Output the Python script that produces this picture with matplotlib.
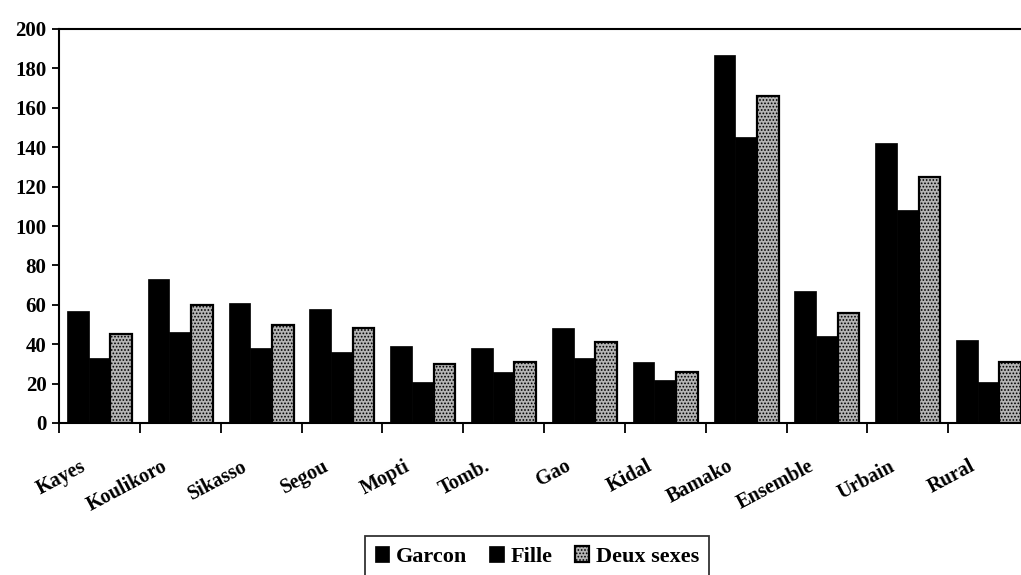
import matplotlib
matplotlib.use("Agg")
import matplotlib.pyplot as plt
import matplotlib.transforms as mtransforms
import numpy as np

categories = ["Kayes", "Koulikoro", "Sikasso", "Segou", "Mopti", "Tomb.",
              "Gao", "Kidal", "Bamako", "Ensemble", "Urbain", "Rural"]
garcon = [57, 73, 61, 58, 39, 38, 48, 31, 187, 67, 142, 42]
fille = [33, 46, 38, 36, 21, 26, 33, 22, 145, 44, 108, 21]
deux_sexes = [45, 60, 50, 48, 30, 31, 41, 26, 166, 56, 125, 31]
series_names = ["Garcon", "Fille", "Deux sexes"]
yticks = [0, 20, 40, 60, 80, 100, 120, 140, 160, 180, 200]

plt.rcParams['font.family'] = ['Liberation Serif', 'DejaVu Serif']
plt.rcParams['hatch.linewidth'] = 0.8

fig = plt.figure(figsize=(10.21, 5.75), dpi=100)
ax = fig.add_axes([59/1021, 1 - 423/575, 970/1021, 394/575])

x = np.arange(len(categories))
w = 0.268
ax.bar(x - w, garcon, w, color='black', edgecolor='black', linewidth=0.5,
       label=series_names[0])
ax.bar(x, fille, w, color='black', edgecolor='black', linewidth=0.5,
       label=series_names[1])
ax.bar(x + w, deux_sexes, w, color='#b5b5b5', edgecolor='black', linewidth=1.6,
       hatch='.....', label=series_names[2])

ax.set_xlim(-0.5, len(categories) - 0.5)
ax.set_ylim(0, 200)
ax.set_yticks(yticks)
ax.set_yticklabels([str(t) for t in yticks], fontsize=15, fontweight='bold')

ax.set_xticks(x)
ax.set_xticklabels(categories, rotation=28, ha='right', fontsize=14.5,
                   fontweight='bold')
ax.tick_params(axis='x', which='major', length=0, pad=24)
offset = mtransforms.ScaledTranslation(-10/100, 0, fig.dpi_scale_trans)
for lab in ax.get_xticklabels():
    lab.set_transform(lab.get_transform() + offset)
ax.set_xticks(np.arange(len(categories) + 1) - 0.5, minor=True)
ax.tick_params(axis='x', which='minor', length=7, width=1.3, direction='out')
ax.tick_params(axis='y', length=5, width=1.3, direction='out', pad=4)

for s in ['left', 'top', 'bottom']:
    ax.spines[s].set_linewidth(1.5)
ax.spines['right'].set_visible(False)

leg = fig.legend(loc='upper center', bbox_to_anchor=(537/1021, 1 - 536/575),
                 ncol=3, frameon=True, fancybox=False, edgecolor='black',
                 prop={'size': 16, 'weight': 'bold'}, handlelength=0.65,
                 handleheight=0.75, handletextpad=0.3, columnspacing=1.0,
                 borderpad=0.45, borderaxespad=0)
leg.get_frame().set_linewidth(1.3)

fig.savefig("out.png", dpi=100)
